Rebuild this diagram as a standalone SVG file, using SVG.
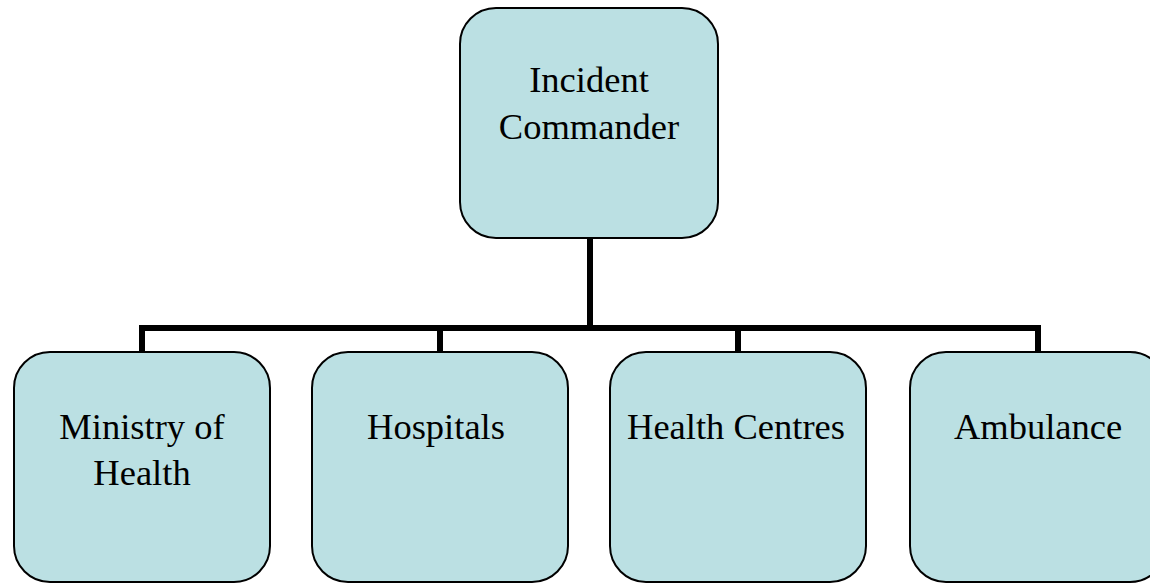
<svg xmlns="http://www.w3.org/2000/svg" width="1150" height="584" viewBox="0 0 1150 584">
<style>
.box{fill:#bbe0e3;stroke:#000;stroke-width:2}
.t{font-family:"Liberation Serif","Times New Roman",serif;font-size:36.5px;fill:#000;text-anchor:middle}
.c{fill:none;stroke:#000;stroke-width:6}
</style>
<rect width="1150" height="584" fill="#fff"/>
<g id="connectors">
<path class="c" d="M590 238V328M142 352V328H1038V352M440 328V352M738 328V352"/>
</g>
<g id="incident-commander">
<rect class="box" x="460" y="8" width="258" height="230" rx="36"/>
<text class="t" x="589" y="92">Incident</text>
<text class="t" x="589" y="139">Commander</text>
</g>
<g id="ministry">
<rect class="box" x="14" y="352" width="256" height="230" rx="36"/>
<text class="t" x="142" y="439">Ministry of</text>
<text class="t" x="142" y="485">Health</text>
</g>
<g id="hospitals">
<rect class="box" x="312" y="352" width="256" height="230" rx="36"/>
<text class="t" x="436" y="439">Hospitals</text>
</g>
<g id="health-centres">
<rect class="box" x="610" y="352" width="256" height="230" rx="36"/>
<text class="t" x="736" y="439">Health Centres</text>
</g>
<g id="ambulance">
<rect class="box" x="910" y="352" width="256" height="230" rx="36"/>
<text class="t" x="1038" y="439">Ambulance</text>
</g>
</svg>
